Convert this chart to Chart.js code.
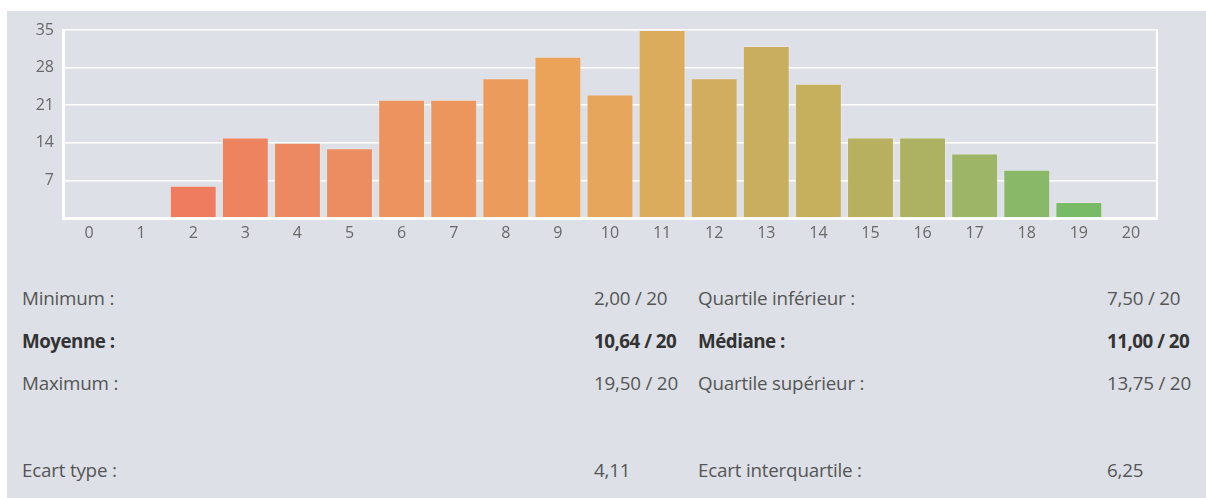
<!DOCTYPE html>
<html>
<head>
<meta charset="utf-8">
<script src="https://cdn.jsdelivr.net/npm/chart.js@4"></script>
<style>
  html, body { margin: 0; padding: 0; background: #ffffff; width: 1206px; height: 498px; overflow: hidden; }
  #panel { position: absolute; left: 7px; top: 11px; width: 1199px; height: 487px; background: #dde0e7; }
  #chartWrap { position: absolute; left: 0; top: 0; width: 1199px; height: 240px; }
  .row { position: absolute; left: 0; width: 1199px; height: 26px; line-height: 26px;
         font-family: "Open Sans", sans-serif; font-size: 18.8px; color: #555; letter-spacing: -0.2px; }
  .row span { position: absolute; top: 0; white-space: nowrap; }
  .row.bold { font-weight: 700; color: #333; letter-spacing: -0.5px; }
  .c1 { left: 15px; } .c2 { left: 587px; } .c3 { left: 691px; } .c4 { left: 1100px; }
</style>
</head>
<body>
<div id="panel">
  <div id="chartWrap"><canvas id="c" width="1199" height="240"></canvas></div>
  <div id="stats"></div>
</div>
<script>
// ---- data ----
const categories = ["0","1","2","3","4","5","6","7","8","9","10","11","12","13","14","15","16","17","18","19","20"];
const counts     = [0, 0, 6, 15, 14, 13, 22, 22, 26, 30, 23, 35, 26, 32, 25, 15, 15, 12, 9, 3, 0];
const yTicks     = [7, 14, 21, 28, 35];
const barColors  = ["#ef7a5e","#ef7b5e","#ef7c5e","#ee8360","#ec8862","#ec8c61","#ec935f","#ec965d","#eb9c5c","#eba35a","#e6a75c","#dcac5d","#d3ad5f","#c9ae60","#c6b05d","#b7b15f","#adb262","#9cb567","#88b868","#77bb66","#70bd66"];

const statLabelsLeft  = ["Minimum :", "Moyenne :", "Maximum :", "Ecart type :"];
const statValuesLeft  = ["2,00 / 20", "10,64 / 20", "19,50 / 20", "4,11"];
const statLabelsRight = ["Quartile inférieur :", "Médiane :", "Quartile supérieur :", "Ecart interquartile :"];
const statValuesRight = ["7,50 / 20", "11,00 / 20", "13,75 / 20", "6,25"];
const statBold        = [false, true, false, false];

// ---- stats table ----
const rowTops = [274, 317, 359, 446];
const stats = document.getElementById('stats');
statLabelsLeft.forEach((lbl, i) => {
  const r = document.createElement('div');
  r.className = 'row' + (statBold[i] ? ' bold' : '');
  r.style.top = rowTops[i] + 'px';
  [[lbl,'c1'],[statValuesLeft[i],'c2'],[statLabelsRight[i],'c3'],[statValuesRight[i],'c4']].forEach(([t,c]) => {
    const s = document.createElement('span'); s.className = c; s.textContent = t; r.appendChild(s);
  });
  stats.appendChild(r);
});

// ---- chart ----
new Chart(document.getElementById('c'), {
  type: 'bar',
  data: {
    labels: categories,
    datasets: [{
      data: counts,
      backgroundColor: barColors,
      borderColor: 'rgba(255,240,220,0.35)',
      borderWidth: 1,
      barPercentage: 0.9,
      categoryPercentage: 1.0
    }]
  },
  options: {
    responsive: false,
    animation: false,
    devicePixelRatio: 1,
    layout: { padding: { top: 19, right: 49, left: 0, bottom: 0 } },
    plugins: { legend: { display: false }, tooltip: { enabled: false } },
    scales: {
      x: {
        offset: true,
        grid: { display: false, drawTicks: false },
        border: { display: true, color: '#ffffff', width: 3 },
        ticks: { color: '#686868', font: { family: 'Open Sans', size: 16 }, padding: 6, maxRotation: 0, autoSkip: false },
        afterFit: s => { s.height = 33; }
      },
      y: {
        min: 0, max: 35,
        afterBuildTicks: s => { s.ticks = [0].concat(yTicks).map(v => ({ value: v })); },
        grid: { color: '#ffffff', lineWidth: 1.5, drawTicks: false },
        border: { display: true, color: '#ffffff', width: 3 },
        ticks: { color: '#686868', font: { family: 'Open Sans', size: 16 }, padding: 9,
                 callback: v => (v === 0 ? '' : String(v)) },
        afterFit: s => { s.width = 56; }
      },
      yR: {
        position: 'right', min: 0, max: 35,
        grid: { display: false, drawTicks: false },
        ticks: { display: false },
        border: { display: true, color: '#ffffff', width: 2 },
        afterFit: s => { s.width = 0; }
      }
    }
  }
});
</script>
</body>
</html>
